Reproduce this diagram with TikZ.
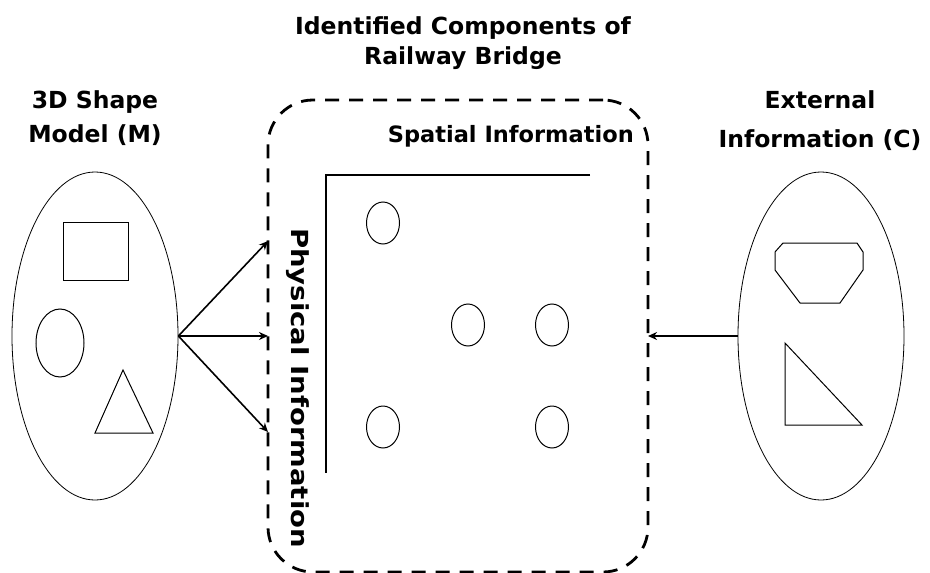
\documentclass[tikz,border=0pt]{standalone}
\usepackage{fontspec}
\setmainfont{DejaVu Sans}
\usetikzlibrary{shapes.geometric,arrows.meta}
\begin{document}
\begin{tikzpicture}[x=1pt,y=-1pt,
  lbl/.style={font=\bfseries\fontsize{23.5}{30}\selectfont, align=center, inner sep=0pt},
  blob/.style={draw, ellipse, line width=0.8pt, minimum width=166pt, minimum height=328pt, inner sep=0pt},
  shp/.style={draw, line width=1pt},
  dot/.style={draw, ellipse, line width=1pt, minimum width=33pt, minimum height=42pt, inner sep=0pt},
  conn/.style={line width=1.6pt, -{Stealth[length=9pt,width=8pt]}},
  axis/.style={line width=2.8pt}]
\useasboundingbox (0,0) rectangle (930,573);
% titles
\node[lbl] (title) at (463,43) {Identified Components of\\Railway Bridge};
\node[lbl] (tM) at (95,118) {3D Shape\\[4pt]Model (M)};
\node[lbl] (tC) at (820,121) {External\\[9pt]Information (C)};
% left ellipse
\node[blob] (M) at (95,336) {};
\draw[shp] (63,222) rectangle (128,280);
\node[draw, ellipse, line width=1pt, minimum width=48pt, minimum height=68pt, inner sep=0pt] (mc) at (60,343) {};
\draw[shp] (123,370) -- (153,433) -- (95,433) -- cycle;
% right ellipse
\node[blob] (C) at (821,336) {};
\draw[shp] (783,243) -- (857,243) -- (863,252) -- (863,270) -- (840,303) -- (800,303) -- (775,270) -- (775,252) -- cycle;
\draw[shp] (785,343) -- (862,425) -- (785,425) -- cycle;
% dashed box
\node[draw, rounded corners=45pt, line width=2.8pt, dash pattern=on 14pt off 10pt, minimum width=380pt, minimum height=472pt, inner sep=0pt] (box) at (458,336) {};
\node[font=\bfseries\fontsize{22.5}{27}\selectfont, anchor=east, inner sep=0pt] (spatial) at (634,136) {Spatial Information};
\node[font=\bfseries\fontsize{23.5}{27}\selectfont, rotate=-90, inner sep=0pt] (phys) at (298,388) {\scalebox{1.17}[1]{Physical Information}};
% axes
\coordinate (ax0) at (326,175);
\coordinate (axx) at (590,175);
\coordinate (axy) at (326,473);
\draw[axis] (axx) -- (ax0) -- (axy);
% component dots
\node[dot] (d1) at (383,223) {};
\node[dot] (d2) at (468,325) {};
\node[dot] (d3) at (552,325) {};
\node[dot] (d4) at (383,427) {};
\node[dot] (d5) at (552,427) {};
% connectors
\coordinate (a1) at (268,241);
\coordinate (a2) at (268,336);
\coordinate (a3) at (268,432);
\coordinate (a4) at (648,336);
\draw[conn] (M.east) -- (a1);
\draw[conn] (M.east) -- (a2);
\draw[conn] (M.east) -- (a3);
\draw[conn] (C.west) -- (a4);
\end{tikzpicture}
\end{document}
